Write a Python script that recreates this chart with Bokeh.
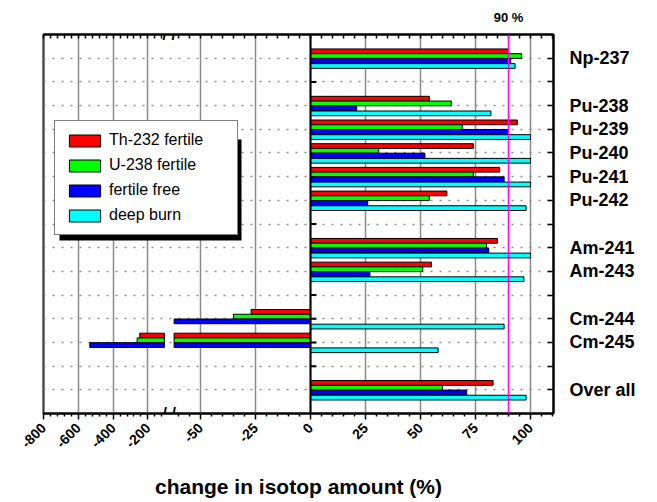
import math
from bokeh.plotting import figure
from bokeh.models import (ColumnDataSource, FixedTicker, LinearAxis, Legend, LegendItem,
                          Span, BoxAnnotation, Range1d)
from bokeh.core.properties import value
from bokeh.embed import file_html
from bokeh.resources import INLINE

# ---------------- data ----------------
categories = ["Np-237", "Pu-238", "Pu-239", "Pu-240", "Pu-241", "Pu-242",
              "Am-241", "Am-243", "Cm-244", "Cm-245", "Over all"]
groups = ["Np", "Pu", "Pu", "Pu", "Pu", "Pu", "Am", "Am", "Cm", "Cm", "All"]
series_names = ["Th-232 fertile", "U-238 fertile", "fertile free", "deep burn"]
series_colors = ["#FF0000", "#00FF00", "#0000FF", "#00FFFF"]
th232 = [90, 54, 94, 74, 86, 62, 85, 55, -27, -247, 83]
u238 = [96, 64, 69, 31, 74, 54, 80, 51, -35, -262, 60]
fertile_free = [91, 21, 90, 52, 88, 26, 81, 27, -62, -534, 71]
deep_burn = [93, 82, 100, 100, 100, 98, 100, 97, 88, 58, 98]
x_tick_values = [-800, -600, -400, -200, -50, -25, 0, 25, 50, 75, 100]
x_tick_labels = ["-800", "-600", "-400", "-200", "-50", "-25", "0", "25", "50", "75", "100"]
threshold = 90
threshold_label = "90 %"
x_title = "change in isotop amount (%)"
break_mark = "/ /"

series_values = [th232, u238, fertile_free, deep_burn]

# ---------------- broken axis mapping ----------------
NEAR_MIN = -62.0      # near segment shows [-62, 110]
FAR_MAX = -105.0      # far segment shows [-800, -105]
FAR_SCALE = 0.0791    # compression of far segment
GAP = 4.4             # visual gap between segments (axis units)
X_END = 110.45


def fmap(x):
    if x >= NEAR_MIN:
        return x
    if x <= FAR_MAX:
        return NEAR_MIN - GAP + (x - FAR_MAX) * FAR_SCALE
    return NEAR_MIN


def pieces(v):
    if v >= 0:
        return [(0.0, float(v))]
    out = [(fmap(max(v, NEAR_MIN)), 0.0)]
    if v < FAR_MAX:
        out.append((fmap(v), fmap(FAR_MAX)))
    return out


# row positions with blank separator rows between groups
rows = []
pos = 0
prev = None
for g in groups:
    pos += 1 if (prev is None or g == prev) else 2
    rows.append(pos)
    prev = g
n_slots = rows[-1] + 1
all_rows = list(range(1, n_slots))
blank_rows = [r for r in all_rows if r not in rows]

X_START = fmap(-800)

# ---------------- figure ----------------
W, H = 657, 502
ML, MR, MT, MB = 43, 104, 34, 89
p = figure(width=W, height=H,
           x_range=Range1d(X_START, X_END), y_range=Range1d(n_slots, 0),
           y_axis_location="right", output_backend="svg", toolbar_location=None,
           min_border_left=ML, min_border_right=MR, min_border_top=MT, min_border_bottom=MB)
p.background_fill_color = "white"
p.border_fill_color = "white"
p.outline_line_color = "black"
p.outline_line_width = 2

frame_w = W - ML - MR
frame_h = H - MT - MB


def px_to_u(px):
    return X_START + (px - ML) * (X_END - X_START) / frame_w


def py_to_y(py):
    return (py - MT) * n_slots / frame_h


major_pos = [round(fmap(v), 4) for v in x_tick_values]
minor_pos = []
for v in range(-760, -105, 40):
    if v not in x_tick_values:
        minor_pos.append(round(fmap(v), 4))
for v in range(-60, 111, 5):
    if v not in x_tick_values:
        minor_pos.append(round(fmap(v), 4))

xticker = FixedTicker(ticks=major_pos, minor_ticks=minor_pos)

# bottom axis
xa = p.below[0]
xa.ticker = xticker
xa.major_label_overrides = {mp: lab for mp, lab in zip(major_pos, x_tick_labels)}
xa.major_label_orientation = math.pi / 4
xa.major_label_text_font = "Liberation Sans"
xa.major_label_text_font_style = "bold"
xa.major_label_text_font_size = "14px"
xa.major_label_text_color = "black"
xa.major_label_standoff = 6
xa.major_tick_in = 0
xa.major_tick_out = 6
xa.minor_tick_in = 0
xa.minor_tick_out = 3
xa.axis_line_width = 2
xa.major_tick_line_width = 1.5
xa.minor_tick_line_width = 1.5
xa.axis_label = x_title
xa.axis_label_text_font = "Liberation Sans"
xa.axis_label_text_font_style = "bold"
xa.axis_label_text_font_size = "21px"
xa.axis_label_text_color = "black"
xa.axis_label_standoff = 20

# right (category) axis; blank separator rows get tick marks only
ya = p.right[0]
ya.ticker = FixedTicker(ticks=rows, minor_ticks=blank_rows)
ya.major_label_overrides = {r: name for r, name in zip(rows, categories)}
ya.major_label_text_font = "Liberation Sans"
ya.major_label_text_font_style = "bold"
ya.major_label_text_font_size = "18px"
ya.major_label_text_color = "black"
ya.major_label_standoff = 16
ya.major_tick_in = 6
ya.major_tick_out = 0
ya.minor_tick_in = 6
ya.minor_tick_out = 0
ya.axis_line_width = 2
ya.major_tick_line_width = 1.5
ya.minor_tick_line_width = 1.5

# top axis: tick marks only plus the threshold label
top_ticker = FixedTicker(ticks=[threshold], minor_ticks=major_pos + minor_pos)
top = LinearAxis(ticker=top_ticker, major_label_overrides={threshold: threshold_label},
                 major_label_text_font="Liberation Sans", major_label_text_font_style="bold",
                 major_label_text_font_size="13px", major_label_text_color="black",
                 major_label_standoff=10,
                 major_tick_in=0, major_tick_out=0, minor_tick_in=4, minor_tick_out=0,
                 axis_line_width=2, minor_tick_line_width=1.5)
p.add_layout(top, "above")

# axis-break mark on the bottom edge (fixed-location axis label)
brk = round(NEAR_MIN - GAP / 2, 4)
bax = LinearAxis(ticker=FixedTicker(ticks=[brk], minor_ticks=[]),
                 major_label_overrides={brk: break_mark}, fixed_location=n_slots - 1e-6,
                 major_label_text_font="Liberation Sans", major_label_text_font_size="16px",
                 major_label_text_font_style="bold",
                 major_label_text_color="black", major_label_standoff=-8,
                 major_tick_in=0, major_tick_out=0, axis_line_color=None)
p.add_layout(bax, "below")

# grids
p.xgrid.ticker = xticker
p.xgrid.grid_line_color = "#8a8a8a"
p.xgrid.grid_line_width = 1.5
p.ygrid.ticker = FixedTicker(ticks=all_rows)
p.ygrid.grid_line_color = "#8a8a8a"
p.ygrid.grid_line_width = 1.5
p.ygrid.grid_line_dash = "2 7"

# axis-break mark on the top edge (visible inside the frame)
p.text(x=[brk], y=[0], text=[break_mark], text_align="center", text_baseline="middle",
       text_font=value("Liberation Sans"), text_font_size="16px", text_font_style="bold",
       text_color="black")

# zero line ticks
p.segment(x0=[0.0] * len(all_rows), x1=[2.7] * len(all_rows), y0=all_rows, y1=all_rows,
          line_color="black", line_width=2)

# bars
offsets = [-0.29, -0.09, 0.11, 0.33]
bar_h = 0.2
renderers = []
for vals, color, off in zip(series_values, series_colors, offsets):
    ys, lefts, rights = [], [], []
    for r, v in zip(rows, vals):
        for l, rr in pieces(v):
            ys.append(r + off)
            lefts.append(l)
            rights.append(rr)
    src = ColumnDataSource(dict(y=ys, left=lefts, right=rights))
    rnd = p.hbar(y="y", left="left", right="right", height=bar_h, source=src,
                 fill_color=color, line_color="black", line_width=1)
    renderers.append(rnd)

p.add_layout(Span(location=0, dimension="height", line_color="black", line_width=2))
p.add_layout(Span(location=threshold, dimension="height", line_color="#FF00FF", line_width=1.5))

# legend shadow
p.add_layout(BoxAnnotation(left=px_to_u(59), right=px_to_u(241), top=py_to_y(139),
                           bottom=py_to_y(240), fill_color="black", fill_alpha=1.0,
                           line_color=None))

legend = Legend(items=[LegendItem(label=n, renderers=[r]) for n, r in zip(series_names, renderers)],
                location=(11, 178), padding=10, spacing=7, glyph_width=39, glyph_height=15,
                label_height=15, label_standoff=5, label_width=118,
                label_text_font="Liberation Sans", label_text_font_size="16px",
                label_text_color="black", border_line_color="black", border_line_width=1.5,
                background_fill_color="white", background_fill_alpha=1.0, margin=0)
p.add_layout(legend)

open("out.html", "w").write(file_html(p, INLINE))
